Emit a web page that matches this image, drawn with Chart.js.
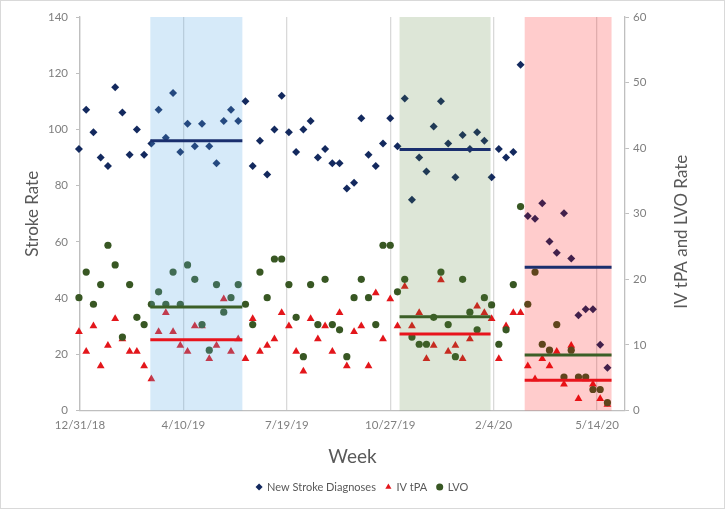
<!DOCTYPE html>
<html><head><meta charset="utf-8">
<script src="https://cdn.jsdelivr.net/npm/chart.js@4.4.1/dist/chart.umd.min.js"></script>
<style>html,body{margin:0;padding:0;background:#fff}#wrap{width:725px;height:509px;position:relative}canvas{display:block}</style>
</head><body><div id="wrap"><canvas id="c" width="725" height="509"></canvas></div>
<script>
// x axis: days since 12/31/18; weekly data points start one day earlier (Sunday 12/30/18)
const firstWeekDay = -1;
const tickLabels = ['12/31/18','4/10/19','7/19/19','10/27/19','2/4/20','5/14/20'];

const strokeRate = [93,107,99,90,87,115,106,91,100,91,
  95,107,97,113,92,102,94,102,94,88,
  103,107,103,110,87,96,84,100,112,99,
  92,100,103,90,93,88,88,79,81,104,
  91,87,95,104,94,111,75,90,85,101,
  110,95,83,98,93,99,96,83,93,90,
  92,123,69.2,68.2,73.7,60.1,56.1,70.2,54.1,33.9,
  36,36,23.4,15.2];
const ivTpa = [12,9,12.9,6.8,9.9,14,10.9,9,9,6.8,
  4.8,12,14.9,12,9.9,9,12.9,12.9,7.9,9.9,
  17,9,10.9,7.9,14,9,9.9,10.9,14.9,12.9,
  9,6,14,10.9,12.9,9,14.9,6.8,12,12.9,
  6.8,17.9,10.9,17,12.9,18.9,12.9,14.9,7.9,9.9,
  19.9,9,9.9,7.9,10.9,15.9,14.9,14,7.9,12.9,
  14.9,14.9,6.8,4.8,7.9,6.8,9,4,9.9,1.8,
  4.8,4,1.8,0.9];
const lvo = [17.2,21.1,16.2,19.2,25.2,22.2,11.2,19.2,14.2,13.1,
  16.2,18.1,16.2,21.1,16.2,22.2,20,13.1,9.2,19.2,
  15,17.2,19.2,16.2,13.1,21.1,17.2,23.1,23.1,19.2,
  14.2,8.2,19.2,13.1,20,13.1,12.3,8.2,17.2,20,
  17.2,13.1,25.2,25.2,18.1,20,11.2,10.1,10.1,14.2,
  21.1,13.1,8.2,20,15,12.3,17.2,16.1,10.1,12.3,
  19.2,31.1,16.2,21.1,10.1,9.2,13.1,5.1,9.2,5.1,
  5.1,3.2,3.2,1.2];

// highlighted periods (days since 12/31/18) and their mean lines
const periodStart = [68, 309, 430];
const periodEnd = [157, 397, 514];
const periodColors = ['rgba(91,170,230,0.25)','rgba(84,130,53,0.2)','rgba(255,0,0,0.2)'];
const strokeMeans = [96, 92.9, 51];
const tpaMeans = [10.8, 11.65, 4.6];
const lvoMeans = [15.8, 14.3, 8.45];

const seriesNames = ['New Stroke Diagnoses','IV tPA','LVO'];
const leftTitle = 'Stroke Rate';
const rightTitle = 'IV tPA and LVO Rate';
const xTitle = 'Week';

const NAVY = '#13295e', RED = '#e3161b', GREEN = '#385723';
const FONT = 'Lato, "Open Sans", "DejaVu Sans", sans-serif';

const toPts = arr => arr.map((v, i) => ({x: firstWeekDay + 7 * i, y: v}));
const meanLine = (i, v) => [{x: periodStart[i], y: v}, {x: periodEnd[i], y: v}];

const datasets = [
  {label: seriesNames[0], data: toPts(strokeRate), yAxisID: 'y', order: 30, pointStyle: 'rectRot', pointRadius: 4, backgroundColor: NAVY, borderColor: NAVY, borderWidth: 0, clip: false},
  {label: seriesNames[1], data: toPts(ivTpa), yAxisID: 'y2', order: 20, pointStyle: 'triangle', pointRadius: 4.5, backgroundColor: RED, borderColor: RED, borderWidth: 0, clip: false},
  {label: seriesNames[2], data: toPts(lvo), yAxisID: 'y2', order: 10, pointStyle: 'circle', pointRadius: 3.6, backgroundColor: GREEN, borderColor: GREEN, borderWidth: 0, clip: false}
];
for (let i = 0; i < periodStart.length; i++) {
  datasets.push({label: 'mean stroke ' + i, data: meanLine(i, strokeMeans[i]), yAxisID: 'y', showLine: true, pointRadius: 0, borderColor: '#1a2f6e', borderWidth: 3, order: 0});
  datasets.push({label: 'mean lvo ' + i, data: meanLine(i, lvoMeans[i]), yAxisID: 'y2', showLine: true, pointRadius: 0, borderColor: '#3b5f27', borderWidth: 3, order: 0});
  datasets.push({label: 'mean tpa ' + i, data: meanLine(i, tpaMeans[i]), yAxisID: 'y2', showLine: true, pointRadius: 0, borderColor: '#e8141c', borderWidth: 3, order: 0});
}

const deco = {
  id: 'deco',
  beforeDraw(chart) {
    const ctx = chart.ctx;
    ctx.save(); ctx.fillStyle = '#fff'; ctx.fillRect(0, 0, chart.width, chart.height); ctx.restore();
  },
  afterDatasetDraw(chart, args) {
    if (args.index !== 2) return;
    const ctx = chart.ctx, xs = chart.scales.x, a = chart.chartArea;
    ctx.save();
    for (let i = 0; i < periodStart.length; i++) {
      const x0 = xs.getPixelForValue(periodStart[i]);
      const x1 = xs.getPixelForValue(periodEnd[i]);
      ctx.fillStyle = periodColors[i];
      ctx.fillRect(x0, a.top, x1 - x0, a.bottom - a.top);
    }
    ctx.restore();
  },
  afterDraw(chart) {
    const ctx = chart.ctx;
    ctx.save();
    ctx.strokeStyle = '#d9d9d9'; ctx.lineWidth = 1;
    ctx.strokeRect(0.5, 0.5, chart.width - 1, chart.height - 1);
    const ys = chart.scales.y2;
    ctx.translate(682, (ys.top + ys.bottom) / 2 + 18);
    ctx.rotate(-Math.PI / 2);
    ctx.font = '17px ' + FONT;
    ctx.fillStyle = '#595959';
    ctx.textAlign = 'center'; ctx.textBaseline = 'middle';
    ctx.fillText(rightTitle, 0, 0);
    ctx.restore();
  }
};

new Chart(document.getElementById('c'), {
  type: 'scatter',
  data: {datasets},
  plugins: [deco],
  options: {
    responsive: false, animation: false, events: [],
    layout: {padding: {top: 17, bottom: 6.5, left: 0, right: 0}},
    font: {family: FONT},
    plugins: {
      tooltip: {enabled: false},
      legend: {
        position: 'bottom',
        labels: {
          usePointStyle: true, boxWidth: 5, boxHeight: 5, padding: 10,
          color: '#595959', font: {family: FONT, size: 11},
          filter: item => item.datasetIndex < 3,
          sort: (a, b) => a.datasetIndex - b.datasetIndex
        }
      }
    },
    scales: {
      x: {
        type: 'linear', min: 0, max: 527,
        afterFit: s => { s.height = 61; },
        ticks: {stepSize: 100, includeBounds: false, padding: 8, color: '#7f7f7f', font: {family: FONT, size: 11.5},
          maxRotation: 0, callback: v => tickLabels[Math.round(v / 100)] ?? ''},
        grid: {color: '#d9d9d9', lineWidth: 1.3, drawTicks: false},
        border: {color: '#bfbfbf', width: 1.3},
        title: {display: true, text: xTitle, color: '#595959', font: {family: FONT, size: 19}, padding: {top: 0, bottom: 3}}
      },
      y: {
        position: 'left', min: 0, max: 140,
        afterFit: s => { s.width = 80; },
        ticks: {stepSize: 20, padding: 8, color: '#7f7f7f', font: {family: FONT, size: 11.5}},
        grid: {drawOnChartArea: false, tickLength: 4, tickColor: '#bfbfbf'},
        border: {color: '#bfbfbf', width: 1.3},
        title: {display: true, text: leftTitle, color: '#595959', font: {family: FONT, size: 17}, padding: {top: 22, bottom: 0}}
      },
      y2: {
        position: 'right', min: 0, max: 60,
        afterFit: s => { s.width = 100; },
        ticks: {stepSize: 10, padding: 4, color: '#7f7f7f', font: {family: FONT, size: 11.5}},
        grid: {drawOnChartArea: false, tickLength: 4, tickColor: '#bfbfbf'},
        border: {color: '#bfbfbf', width: 1.3}
      }
    }
  }
});
</script></body></html>
